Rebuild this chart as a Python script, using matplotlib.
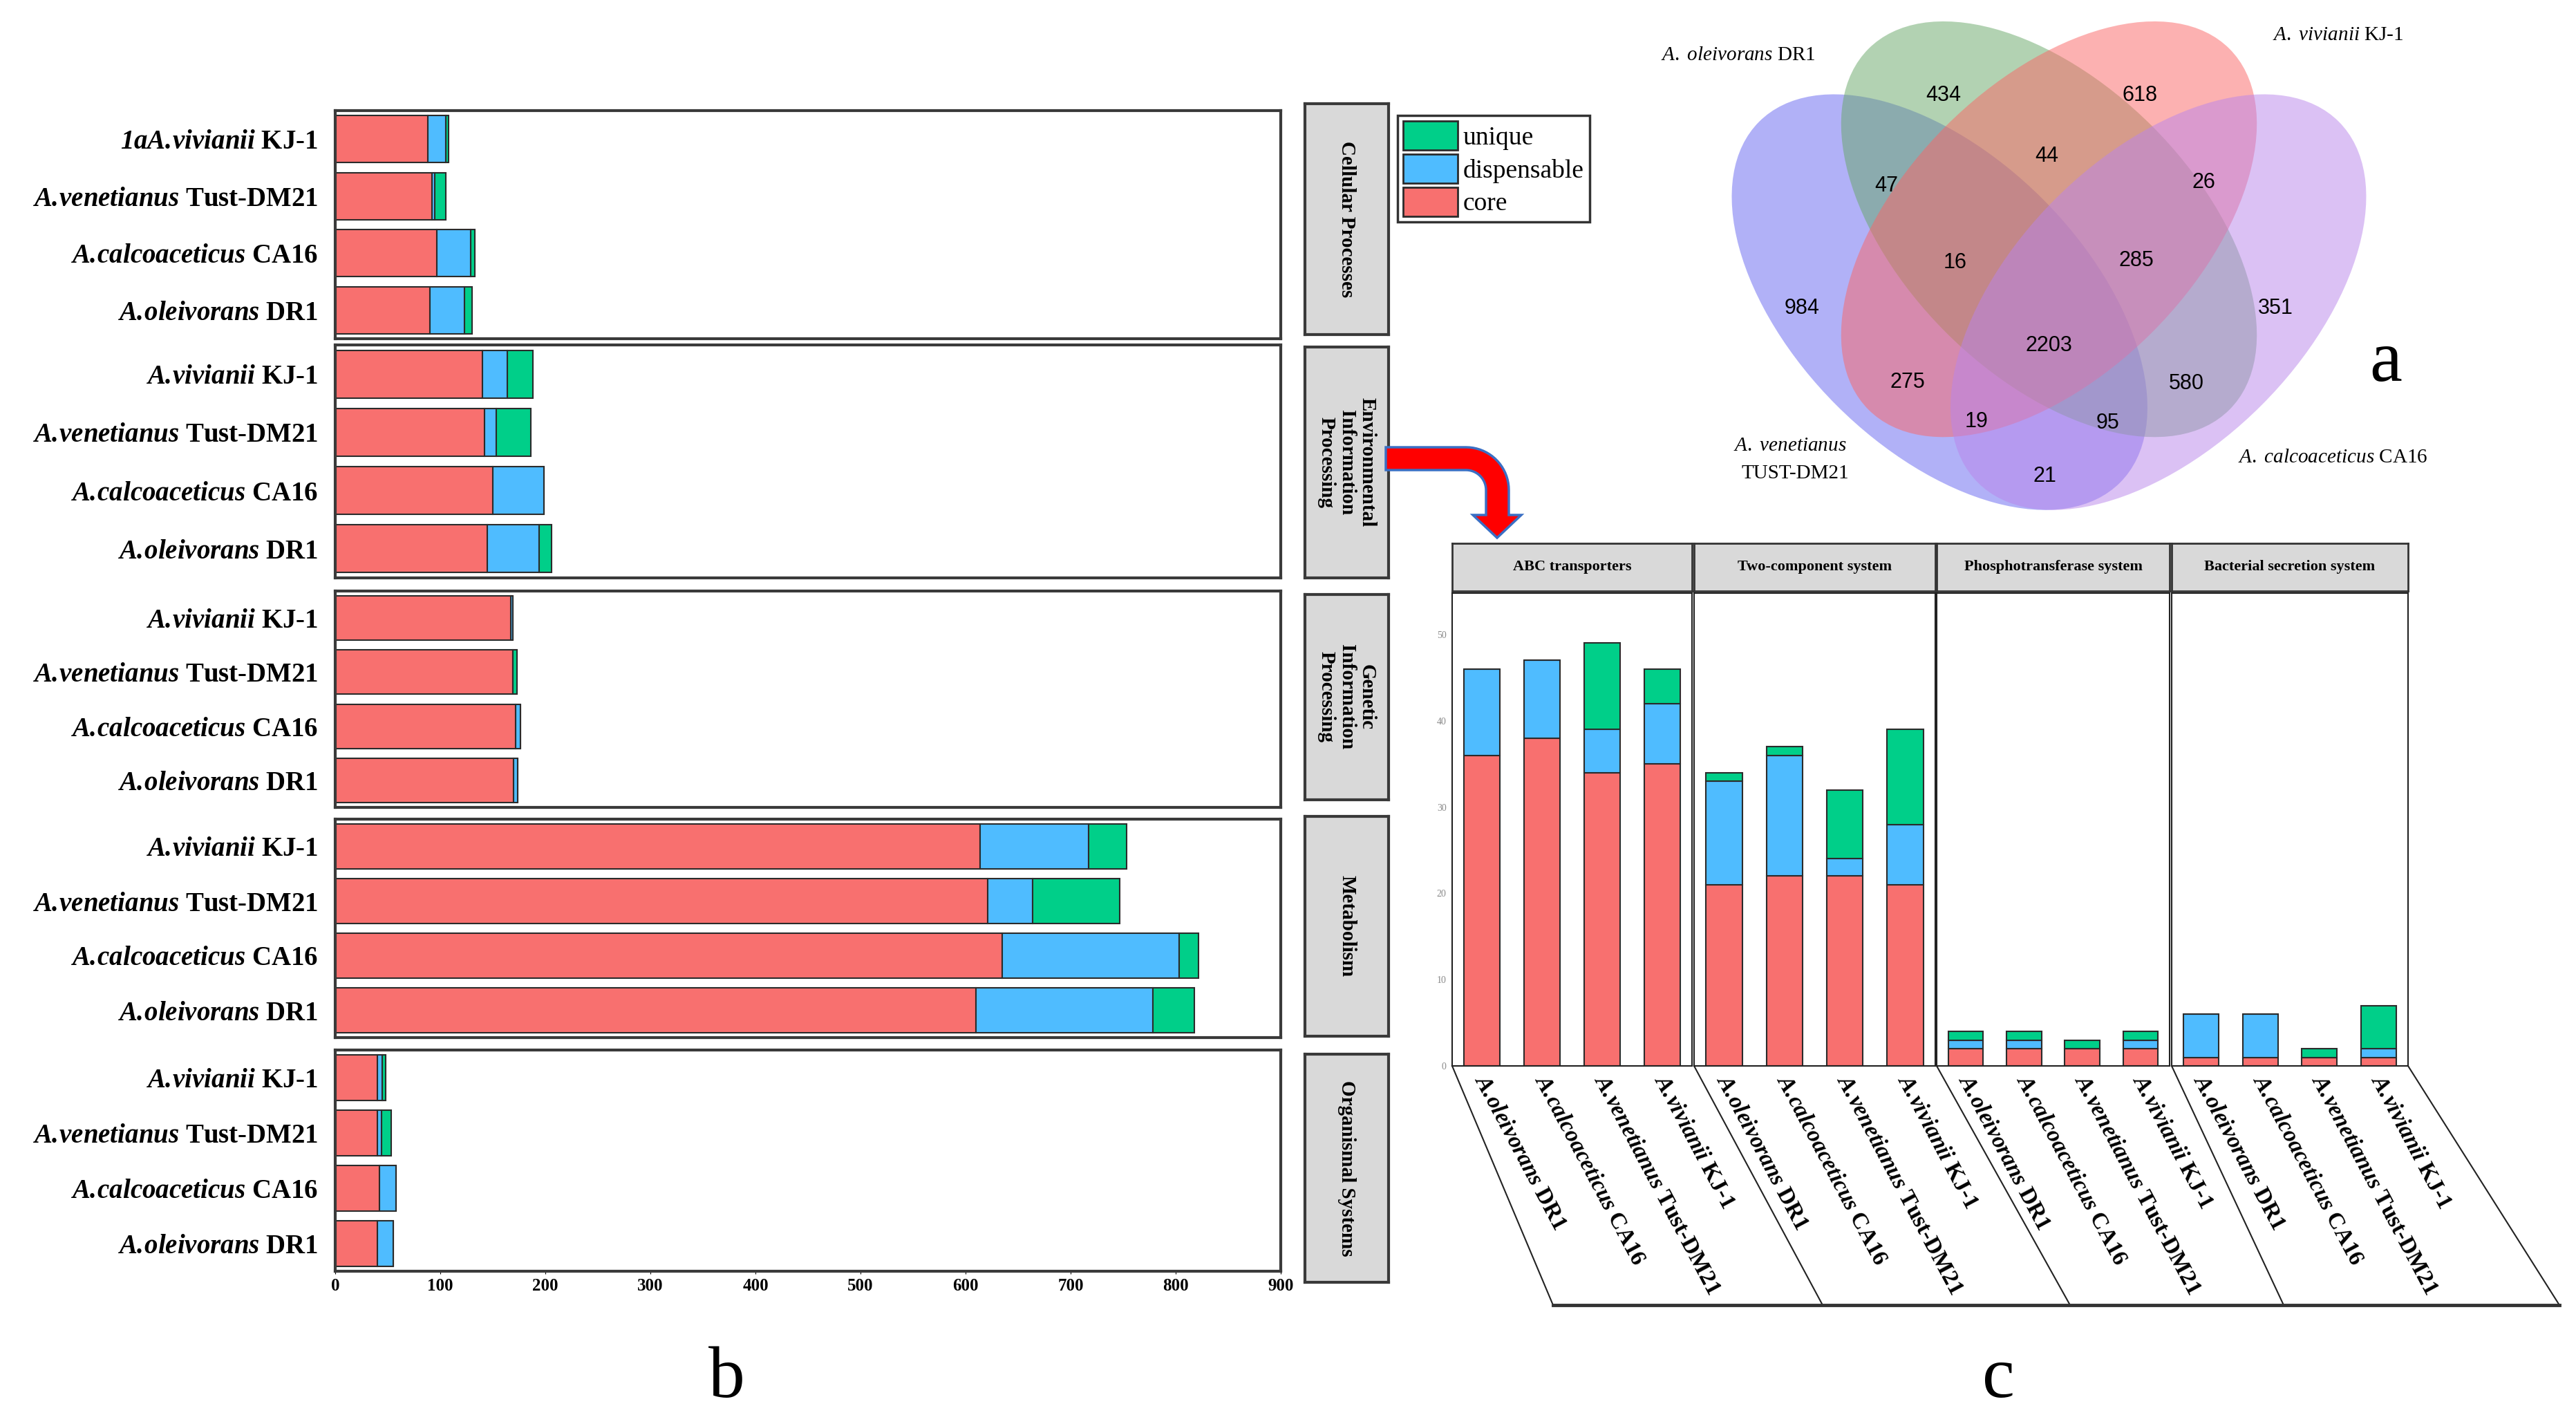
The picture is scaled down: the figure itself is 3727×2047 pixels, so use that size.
import numpy as np
import matplotlib as mpl
import matplotlib.pyplot as plt
import matplotlib.transforms as mtransforms
from matplotlib.patches import Ellipse, Polygon, Patch

mpl.rcParams['font.family'] = 'Liberation Serif'
mpl.rcParams['mathtext.fontset'] = 'custom'
mpl.rcParams['mathtext.rm'] = 'Liberation Serif'
mpl.rcParams['mathtext.it'] = 'Liberation Serif:italic'
mpl.rcParams['mathtext.bf'] = 'Liberation Serif:bold'
mpl.rcParams['mathtext.bfit'] = 'Liberation Serif:italic:bold'

W, H = 3727, 2047

# ---- data ----
species = ['A.oleivorans', 'A.calcoaceticus', 'A.venetianus', 'A.vivianii']
strains = ['DR1', 'CA16', 'Tust-DM21', 'KJ-1']
parts = ['core', 'dispensable', 'unique']
colors = {'core': '#f8706f', 'dispensable': '#4fbcff', 'unique': '#00cf89'}

# panel b (KEGG level 1), order: oleivorans, calcoaceticus, venetianus, vivianii
b_groups = ['Cellular Processes', 'Environmental\nInformation\nProcessing',
            'Genetic\nInformation\nProcessing', 'Metabolism', 'Organismal Systems']
b_core = [[90, 97, 92, 88],
          [145, 150, 142, 140],
          [170, 172, 169, 167],
          [610, 635, 621, 614],
          [40, 42, 40, 40]]
b_disp = [[33, 32, 3, 17],
          [49, 49, 11, 24],
          [4, 4, 0, 2],
          [168, 168, 43, 103],
          [15, 16, 4, 5]]
b_uniq = [[7, 4, 10, 3],
          [12, 0, 33, 24],
          [0, 0, 4, 0],
          [40, 19, 83, 36],
          [0, 0, 9, 3]]

# panel c (Environmental Information Processing, level 2)
c_groups = ['ABC transporters', 'Two-component system',
            'Phosphotransferase system', 'Bacterial secretion system']
c_core = [[36, 38, 34, 35], [21, 22, 22, 21], [2, 2, 2, 2], [1, 1, 1, 1]]
c_disp = [[10, 9, 5, 7], [12, 14, 2, 7], [1, 1, 0, 1], [5, 5, 0, 1]]
c_uniq = [[0, 0, 10, 4], [1, 1, 8, 11], [1, 1, 1, 1], [0, 0, 1, 5]]

# panel a (Venn counts)
venn_counts = [434, 618, 44, 47, 26, 16, 285, 984, 351, 2203, 275, 580, 19, 95, 21]
venn_pos = [(0.355, 0.684), (0.625, 0.684), (0.497, 0.600), (0.277, 0.559),
            (0.712, 0.564), (0.371, 0.454), (0.620, 0.457), (0.161, 0.392),
            (0.811, 0.392), (0.500, 0.340), (0.306, 0.290), (0.688, 0.288),
            (0.401, 0.236), (0.581, 0.234), (0.494, 0.161)]


def box(x0, y0, x1, y1):
    return [x0 / W, 1 - y1 / H, (x1 - x0) / W, (y1 - y0) / H]


def frame(ax, lw, col):
    for sp in ax.spines.values():
        sp.set_linewidth(lw)
        sp.set_color(col)


def sp_label(sp, st):
    # keep "A.name" tight: cancel mathtext's space after the dot
    g, name = sp.split('.')
    return r'$\mathbfit{%s.\!%s}$ %s' % (g, name, st)


fig = plt.figure(figsize=(W / 100, H / 100), dpi=100)

# ---- panel b ----
b_rows = [(160, 490), (499, 836), (855, 1168), (1185, 1501), (1519, 1839)]
s_rows = [(150, 484), (502, 836), (860, 1157), (1181, 1499), (1525, 1855)]
for i, g in enumerate(b_groups):
    ax = fig.add_axes(box(485, b_rows[i][0], 1853, b_rows[i][1]))
    y = np.arange(4)
    left = np.zeros(4)
    for name, vals in zip(parts, [b_core[i], b_disp[i], b_uniq[i]]):
        ax.barh(y, vals, left=left, height=0.82, color=colors[name],
                edgecolor='#2b2b2b', linewidth=1.5)
        left = left + np.array(vals)
    ax.set_xlim(0, 900)
    ax.set_ylim(-0.5, 3.5)
    labels = [sp_label(sp, st) for sp, st in zip(species, strains)]
    if i == 0:
        labels[3] = r'$\mathbfit{1aA.\!vivianii}$ KJ-1'
    ax.set_yticks(y)
    ax.set_yticklabels(labels, fontsize=28, fontweight='bold')
    ax.tick_params(axis='y', length=0, pad=18)
    ax.set_xticks(range(0, 901, 100))
    if i == len(b_groups) - 1:
        ax.tick_params(axis='x', length=3, labelsize=18, pad=4)
        for t in ax.get_xticklabels():
            t.set_fontweight('bold')
    else:
        ax.tick_params(axis='x', length=0, labelbottom=False)
    frame(ax, 3, '#3a3a3a')

    sx = fig.add_axes(box(1888, s_rows[i][0], 2009, s_rows[i][1]))
    sx.set_facecolor('#d9d9d9')
    sx.set_xticks([])
    sx.set_yticks([])
    frame(sx, 3, '#3a3a3a')
    sx.text(0.5, 0.5, g, rotation=-90, ha='center', va='center',
            transform=sx.transAxes, fontsize=21, fontweight='bold', linespacing=1.1)

fig.legend(handles=[Patch(facecolor=colors[p], edgecolor='#2b2b2b', linewidth=2)
                    for p in ['unique', 'dispensable', 'core']],
           labels=['unique', 'dispensable', 'core'],
           loc='upper left', bbox_to_anchor=(2022 / W, 1 - 167 / H),
           fontsize=27, handlelength=2.1, handleheight=1.35, labelspacing=0.15,
           handletextpad=0.2, borderpad=0.22, borderaxespad=0,
           fancybox=False, edgecolor='#333333', framealpha=1).get_frame().set_linewidth(2.5)

# ---- panel c ----
c_x0 = [2101, 2451, 2802, 3142]
c_x1 = [2448, 2800, 3139, 3484]
for j, g in enumerate(c_groups):
    ax = fig.add_axes(box(c_x0[j], 858, c_x1[j], 1542))
    x = np.arange(4)
    bottom = np.zeros(4)
    for name, vals in zip(parts, [c_core[j], c_disp[j], c_uniq[j]]):
        ax.bar(x, vals, bottom=bottom, width=0.6, color=colors[name],
               edgecolor='#2b2b2b', linewidth=1.5)
        bottom = bottom + np.array(vals)
    ax.set_xlim(-0.5, 3.5)
    ax.set_ylim(0, 54.8)
    ax.set_xticks([])
    if j == 0:
        ax.set_yticks(range(0, 51, 10))
        ax.tick_params(axis='y', length=0, labelsize=10, labelcolor='#8a8a8a', pad=6)
    else:
        ax.set_yticks([])
    frame(ax, 1.5, '#222222')
    tr = mtransforms.blended_transform_factory(ax.transData, ax.transAxes)
    for k in range(4):
        ax.text(k - 0.05, -0.022, sp_label(species[k], strains[k]),
                transform=tr, rotation=-62, rotation_mode='anchor',
                ha='left', va='center', fontsize=24, fontweight='bold')

    sx = fig.add_axes(box(c_x0[j], 786, c_x1[j], 855))
    sx.set_facecolor('#d9d9d9')
    sx.set_xticks([])
    sx.set_yticks([])
    frame(sx, 2, '#333333')
    sx.text(0.5, 0.5, g, ha='center', va='center', transform=sx.transAxes,
            fontsize=16, fontweight='bold')

# ---- panel a: Venn ----
vx = fig.add_axes(box(2437, 0, 3492, 859))
vx.set_xlim(0, 1)
vx.set_ylim(0, 0.8144)
vx.axis('off')
venn_shapes = [((0.35, 0.40), 135, '#6565f1'),
               ((0.50, 0.50), 135, '#67a767'),
               ((0.50, 0.50), 45, '#fb6565'),
               ((0.65, 0.40), 45, '#b985eb')]
for c, ang, col in venn_shapes:
    vx.add_patch(Ellipse(c, 0.70, 0.40, angle=ang, facecolor=col,
                         edgecolor='none', alpha=0.5))
for n, (px, py) in zip(venn_counts, venn_pos):
    vx.text(px, py, str(n), ha='center', va='center', fontsize=22,
            family=['Liberation Sans Narrow', 'Liberation Sans'])
vx.text(0.180, 0.739, r'$\mathit{A.\ oleivorans}$ DR1', ha='right', va='center', fontsize=21)
vx.text(0.807, 0.766, r'$\mathit{A.\ vivianii}$ KJ-1', ha='left', va='center', fontsize=21)
vx.text(0.145, 0.203, r'$\mathit{A.\ venetianus}$', ha='center', va='center', fontsize=21)
vx.text(0.152, 0.165, 'TUST-DM21', ha='center', va='center', fontsize=21)
vx.text(0.759, 0.187, r'$\mathit{A.\ calcoaceticus}$ CA16', ha='left', va='center', fontsize=21)

# ---- overlay: arrow, slanted label frame, panel letters ----
ov = fig.add_axes([0, 0, 1, 1])
ov.set_xlim(0, W)
ov.set_ylim(H, 0)
ov.axis('off')

R, t = 62, 33
cx, cy = 2183 - R, 647 + R
phi = np.linspace(0, np.pi / 2, 20)
outer = [(cx + R * np.sin(p), cy - R * np.cos(p)) for p in phi]
inner = [(cx + (R - t) * np.sin(p), cy - (R - t) * np.cos(p)) for p in phi[::-1]]
verts = [(2005, 647)] + outer + [(2183, 745), (2201, 745), (2166, 778), (2131, 745),
                                 (2150, 745)] + inner + [(2005, 680)]
ov.add_patch(Polygon(verts, closed=True, facecolor='#ff0000', edgecolor='#3a6fc4', linewidth=2.5))

tops = c_x0 + [c_x1[-1]]
shift = [146, 186, 193, 162, 219]
for xt, s in zip(tops, shift):
    ov.plot([xt, xt + s], [1542, 1888], color='#222222', linewidth=1.5)
ov.plot([tops[0] + shift[0], tops[-1] + shift[-1]], [1888, 1888], color='#333333', linewidth=3.5)

ov.text(1051, 2044, 'b', ha='center', va='bottom', fontsize=76)
ov.text(2891, 2044, 'c', ha='center', va='bottom', fontsize=76)
ov.text(3452, 551, 'a', ha='center', va='baseline', fontsize=76)

fig.savefig('out.png', dpi=100)
